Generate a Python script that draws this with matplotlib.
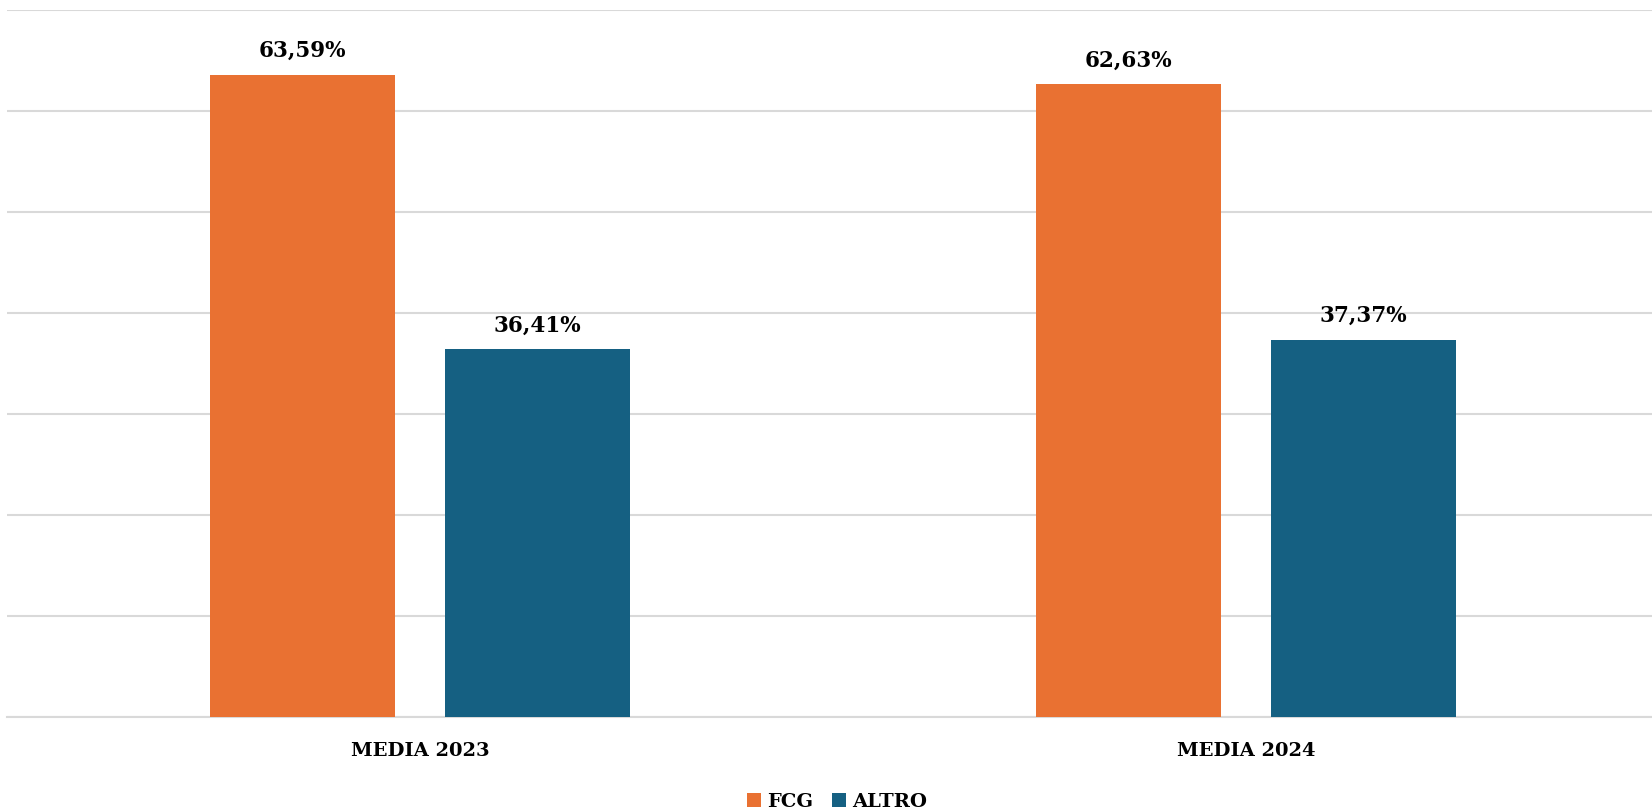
import matplotlib.pyplot as plt
import numpy as np

categories = ["MEDIA 2023", "MEDIA 2024"]
fcg = [63.59, 62.63]
altro = [36.41, 37.37]
series_names = ["FCG", "ALTRO"]
colors = ["#E97132", "#156082"]

plt.rcParams['font.family'] = ['DejaVu Serif']

fig = plt.figure(figsize=(16.52, 8.09), dpi=100)
ax = fig.add_axes([7 / 1652, 92 / 809, 1652 / 1652, (717 - 10) / 809])

x = np.arange(len(categories))
w = 0.2245
off = 0.142
b1 = ax.bar(x - off, fcg, w, color=colors[0], label=series_names[0], linewidth=0, zorder=3)
b2 = ax.bar(x + off, altro, w, color=colors[1], label=series_names[1], linewidth=0, zorder=3)

for bars, vals in [(b1, fcg), (b2, altro)]:
    for r, v in zip(bars, vals):
        ax.annotate(f"{v:.2f}%".replace(".", ","),
                    (r.get_x() + r.get_width() / 2, r.get_height()),
                    xytext=(0, 17), textcoords="offset points",
                    ha="center", va="center", fontsize=15.5, fontweight="bold")

ax.set_xlim(-0.5, 1.5)
ax.set_ylim(0, 70)
ax.set_yticks(np.arange(0, 71, 10))
ax.yaxis.grid(True, color="#D9D9D9", linewidth=1.5, zorder=0)
ax.tick_params(axis="y", left=False, labelleft=False)
ax.tick_params(axis="x", length=0, pad=18)
ax.set_xticks(x)
ax.set_xticklabels(categories, fontsize=14, fontweight="bold")
for s in ["top", "right", "left"]:
    ax.spines[s].set_visible(False)
ax.spines["bottom"].set_color("#D9D9D9")
ax.spines["bottom"].set_linewidth(1.5)

leg = fig.legend(loc="center", bbox_to_anchor=(837 / 1652, 7 / 809), ncol=2, frameon=False,
                 handlelength=0.7, handleheight=0.7, handletextpad=0.3, columnspacing=1.0,
                 prop={"size": 14, "weight": "bold"})

fig.savefig("out.png", dpi=100)
